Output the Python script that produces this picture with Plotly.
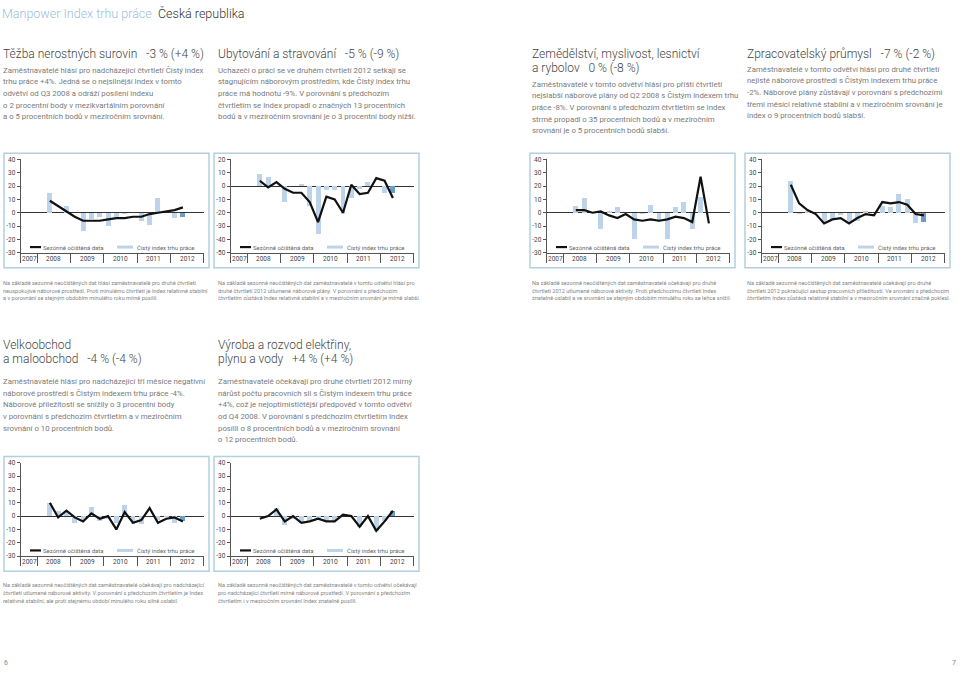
import plotly.graph_objects as go

W, H = 960, 674

# ---------------- data ----------------
quarters = ["Q2 2008", "Q3 2008", "Q4 2008", "Q1 2009", "Q2 2009", "Q3 2009", "Q4 2009",
            "Q1 2010", "Q2 2010", "Q3 2010", "Q4 2010", "Q1 2011", "Q2 2011", "Q3 2011",
            "Q4 2011", "Q1 2012", "Q2 2012"]
year_labels = ["2007", "2008", "2009", "2010", "2011", "2012"]

tezba_bars = [15, 0, 5, 0, -14, -5, -3, -10, -3, -1, 0, -6, -9, 11, 0, -4, -3]
tezba_line = [9, 5, 1, -3, -6, -6, -6, -5, -4, -4, -3, -3, -1, 0, 1, 2, 4]

ubyt_bars = [9, 7, 0, -12, 0, 1.5, -15, -36, -3, -3, -21, -9, -2, 3, 0, -5, -5]
ubyt_line = [4, -1, 3, -2, -5, -5, -12, -27, -8, -10, -20, 1, -6, -5, 6, 4, -9]

zem_bars = [5, 11, 0, -12, 1.5, 4, 0, -20, -1, 6, -7, -20, 4, 8, -12, 12, 0]
zem_line = [2, 2, 0, 1, -2, -4, -1, -5, -6, -5, -6, -5, -3, -4, -7, 27, -8]

zprac_bars = [24, -1, 1, 0, -7, -5, -2, -7, -6, 1, 0, 5, 4, 14, 10, -8, -7]
zprac_line = [21, 7, 2, -1, -8, -5, -4, -8, -4, -1, -2, 8, 7, 8, 6, -1, -2]

velk_bars = [10, 4, 2, -5, -3, 7, -4, -2, -5, 8, -6, -6, 0, -3, -1, -5, -4]
velk_line = [10, -1, 4, -1, -4, 2, -2, 0, -10, 3, -5, -3, 6, -5, -2, -1, -4]

vyr_bars = [0, 0, 6, -7, -2, -5, -4, -3, -4, -4, 0, -1, -8, 0, -11, -4, 4]
vyr_line = [-2, 0, 5, -4, 0, -5, -4, -2, -4, -4, 1, 0, -8, 0, -11, -4, 4]

def qpos(label):
    q, y = label.split()
    return int(y) + (int(q[1]) - 0.5) / 4.0

xq = [qpos(q) for q in quarters]

# ---------------- styles ----------------
FONT = "Roboto"
C_TITLE = "#444444"
C_BODY = "#7a7a7a"
C_CAP = "#858585"
C_AX = "#555555"
C_BAR = "#bcd3e9"
C_BAR_DARK = "#6f9cc6"
C_BOX = "#b2d0df"

panels = [
    dict(L=4, T=151, yr=(-30, 40), bars=tezba_bars, line=tezba_line, tx=3,
         title=["Těžba nerostných surovin   -3 % (+4 %)"], ty=51, by=67,
         body=["Zaměstnavatelé hlásí pro nadcházející čtvrtletí Čistý index",
               "trhu práce +4%. Jedná se o nejsilnější Index v tomto",
               "odvětví od Q3 2008 a odráží posílení indexu",
               "o 2 procentní body v mezikvartálním porovnání",
               "a o 5 procentních bodů v meziročním srovnání."],
         cap=["Na základě sezonně neočištěných dat hlásí zaměstnavatelé pro druhé čtvrtletí",
              "neuspokojivé náborové prostředí. Proti minulému čtvrtletí je Index relativně stabilní",
              "a v porovnání se stejným obdobím minulého roku mírně posílil."], cy=282),
    dict(L=214, T=151, yr=(-50, 20), bars=ubyt_bars, line=ubyt_line, tx=218,
         title=["Ubytování a stravování   -5 % (-9 %)"], ty=51, by=67,
         body=["Uchazeči o práci se ve druhém čtvrtletí 2012 setkají se",
               "stagnujícím náborovým prostředím, kde Čistý index trhu",
               "práce má hodnotu -9%. V porovnání s předchozím",
               "čtvrtletím se Index propadl o značných 13 procentních",
               "bodů a v meziročním srovnání je o 3 procentní body nižší."],
         cap=["Na základě sezonně neočištěných dat zaměstnavatelé v tomto odvětví hlásí pro",
              "druhé čtvrtletí 2012 utlumené náborové plány. V porovnání s předchozím",
              "čtvrtletím zůstává Index relativně stabilní a v meziročním srovnání je mírně slabší."], cy=282),
    dict(L=530, T=151, yr=(-30, 40), bars=zem_bars, line=zem_line, tx=532,
         title=["Zemědělství, myslivost, lesnictví", "a rybolov   0 % (-8 %)"], ty=51, by=81,
         body=["Zaměstnavatelé v tomto odvětví hlásí pro příští čtvrtletí",
               "nejslabší náborové plány od Q2 2008 s Čistým indexem trhu",
               "práce -8%. V porovnání s předchozím čtvrtletím se Index",
               "strmě propadl o 35 procentních bodů a v meziročním",
               "srovnání je o 5 procentních bodů slabší."],
         cap=["Na základě sezonně neočištěných dat zaměstnavatelé očekávají pro druhé",
              "čtvrtletí 2012 utlumené náborové aktivity. Proti předchozímu čtvrtletí Index",
              "znatelně oslabil a ve srovnání se stejným obdobím minulého roku se lehce snížil."], cy=282),
    dict(L=745, T=151, yr=(-30, 40), bars=zprac_bars, line=zprac_line, tx=747,
         title=["Zpracovatelský průmysl   -7 % (-2 %)"], ty=51, by=66,
         body=["Zaměstnavatelé v tomto odvětví hlásí pro druhé čtvrtletí",
               "nejisté náborové prostředí s Čistým indexem trhu práce",
               "-2%. Náborové plány zůstávají v porovnání s předchozími",
               "třemi měsíci relativně stabilní a v meziročním srovnání je",
               "index o 9 procentních bodů slabší."],
         cap=["Na základě sezonně neočištěných dat zaměstnavatelé očekávají pro druhé",
              "čtvrtletí 2012 pokračující sestup pracovních příležitostí. Ve srovnání s předchozím",
              "čtvrtletím Index zůstává relativně stabilní a v meziročním srovnání značně poklesl."], cy=282),
    dict(L=4, T=458, yr=(-30, 40), bars=velk_bars, line=velk_line, tx=3,
         title=["Velkoobchod", "a maloobchod   -4 % (-4 %)"], ty=345, by=382,
         body=["Zaměstnavatelé hlásí pro nadcházející tři měsíce negativní",
               "náborové prostředí s Čistým indexem trhu práce -4%.",
               "Náborové příležitosti se snížily o 3 procentní body",
               "v porovnání s předchozím čtvrtletím a v meziročním",
               "srovnání o 10 procentních bodů."],
         cap=["Na základě sezonně neočištěných dat zaměstnavatelé očekávají pro nadcházející",
              "čtvrtletí utlumené náborové aktivity. V porovnání s předchozím čtvrtletím je Index",
              "relativně stabilní, ale proti stejnému období minulého roku silně oslabil."], cy=588),
    dict(L=214, T=458, yr=(-30, 40), bars=vyr_bars, line=vyr_line, tx=218,
         title=["Výroba a rozvod elektřiny,", "plynu a vody   +4 % (+4 %)"], ty=345, by=382,
         body=["Zaměstnavatelé očekávají pro druhé čtvrtletí 2012 mírný",
               "nárůst počtu pracovních sil s Čistým indexem trhu práce",
               "+4%, což je nejoptimističtější předpověď v tomto odvětví",
               "od Q4 2008. V porovnání s předchozím čtvrtletím Index",
               "posílil o 8 procentních bodů a v meziročním srovnání",
               "o 12 procentních bodů."],
         cap=["Na základě sezonně neočištěných dat zaměstnavatelé v tomto odvětví očekávají",
              "pro nadcházející čtvrtletí mírně náborové prostředí. V porovnání s předchozím",
              "čtvrtletím i v meziročním srovnání Index znatelně posílil."], cy=588),
]

def px(x):
    return x / W

def py(y):
    return 1 - y / H

fig = go.Figure()
shapes = []
annotations = []

def text(x, y, s, size, color, weight=400, anchor="left"):
    annotations.append(dict(x=px(x), y=py(y), xref="paper", yref="paper", text=s,
                            showarrow=False, xanchor=anchor, yanchor="middle",
                            borderpad=0, borderwidth=0,
                            font=dict(family=FONT, size=size, color=color, weight=weight)))

# header
text(2, 10, "Manpower Index trhu práce", 12.5, "#9cc0d8", 300)
text(158, 10, "Česká republika", 12.5, "#333333", 300)

for k, p in enumerate(panels, start=1):
    L, T = p["L"], p["T"]
    xa = "x" if k == 1 else f"x{k}"
    ya = "y" if k == 1 else f"y{k}"
    # box
    shapes.append(dict(type="rect", xref="paper", yref="paper",
                       x0=px(L), x1=px(L + 205), y0=py(T + 116), y1=py(T),
                       line=dict(color=C_BOX, width=1.5), layer="below"))
    colors = [C_BAR] * (len(p["bars"]) - 1) + [C_BAR_DARK]
    fig.add_trace(go.Bar(x=xq, y=p["bars"], width=0.15, marker=dict(color=colors, line=dict(width=0)),
                         xaxis=xa, yaxis=ya, showlegend=False, hoverinfo="skip"))
    fig.add_trace(go.Scatter(x=xq, y=p["line"], mode="lines", line=dict(color="#111111", width=2.2),
                             xaxis=xa, yaxis=ya, showlegend=False, hoverinfo="skip"))
    ymin, ymax = p["yr"]
    yt = list(range(ymin, ymax + 1, 10))
    xdom = [px(L + 16.7), px(L + 199.7)]
    ydom = [py(T + 100.7), py(T + 6.3)]
    fig.layout[("xaxis" if k == 1 else f"xaxis{k}")] = dict(
        domain=xdom, range=[2007.5, 2013.0], anchor=ya,
        tickvals=[2007.5, 2008, 2009, 2010, 2011, 2012, 2013], showticklabels=False,
        ticks="outside", ticklen=9, tickcolor=C_AX, tickwidth=1,
        showline=True, linecolor=C_AX, linewidth=1, showgrid=False, zeroline=False, fixedrange=True)
    fig.layout[("yaxis" if k == 1 else f"yaxis{k}")] = dict(
        domain=ydom, range=[ymin, ymax], anchor=xa,
        tickvals=yt, ticktext=[str(v) for v in yt], ticks="outside", ticklen=3,
        tickcolor=C_AX, tickfont=dict(family=FONT, size=6.5, color="#444444"),
        showline=True, linecolor=C_AX, linewidth=1, showgrid=False,
        zeroline=True, zerolinecolor="#333333", zerolinewidth=1, fixedrange=True)
    # year labels
    for i, yl in enumerate(year_labels):
        xc = 2007.75 if i == 0 else int(yl) + 0.5
        annotations.append(dict(x=xc, y=py(T + 107), xref=xa, yref="paper", text=yl,
                                showarrow=False, xanchor="center", yanchor="middle",
                                font=dict(family=FONT, size=6.5, color="#444444")))
    # legend
    ly = T + 95
    shapes.append(dict(type="line", xref="paper", yref="paper", x0=px(L + 26), x1=px(L + 37),
                       y0=py(ly), y1=py(ly), line=dict(color="#111111", width=2.2)))
    text(L + 39, ly, "Sezónně očištěná data", 6, "#666666")
    shapes.append(dict(type="line", xref="paper", yref="paper", x0=px(L + 113), x1=px(L + 129),
                       y0=py(ly), y1=py(ly), line=dict(color=C_BAR, width=3)))
    text(L + 133, ly, "Čistý index trhu práce", 6, "#666666")
    # texts
    tx = p["tx"]
    for j, t in enumerate(p["title"]):
        text(tx, p["ty"] + 14 * j, t, 12, C_TITLE, 300)
    for j, t in enumerate(p["body"]):
        text(tx, p["by"] + 11.8 * j, t, 7.8, C_BODY)
    for j, t in enumerate(p["cap"]):
        text(tx, p["cy"] + 8 * j, t, 5.6, C_CAP)

text(4, 667, "6", 7, "#888888")
text(952, 667, "7", 7, "#888888")

fig.update_layout(width=W, height=H, margin=dict(l=0, r=0, t=0, b=0),
                  paper_bgcolor="white", plot_bgcolor="rgba(0,0,0,0)",
                  shapes=shapes, annotations=annotations, bargap=0, showlegend=False)
fig.write_html("out.html", config={"displayModeBar": False, "staticPlot": True},
               post_script="document.body.style.margin='0';document.body.style.overflow='hidden';")
